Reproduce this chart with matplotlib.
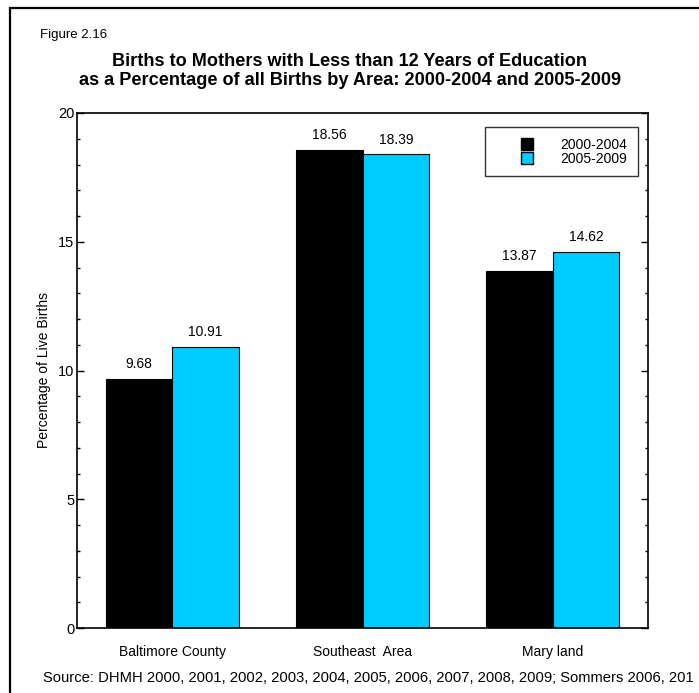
import numpy as np
import matplotlib.pyplot as plt
from matplotlib.patches import Rectangle
from matplotlib.lines import Line2D

plt.rcParams['font.family'] = ['Liberation Sans', 'DejaVu Sans']

areas = ["Baltimore County", "Southeast  Area", "Mary land"]
series = ["2000-2004", "2005-2009"]
vals_0004 = [9.68, 18.56, 13.87]
vals_0509 = [10.91, 18.39, 14.62]
colors = ["#000000", "#00CCFF"]

W, H = 699, 693
fig = plt.figure(figsize=(W / 100, H / 100), dpi=100)
ax = fig.add_axes([77 / W, 1 - 628 / H, (648 - 77) / W, (628 - 113) / H])

# outer frame (left/top visible, right/bottom run off the page)
fig.patches.append(Rectangle((10 / W, -0.1), 1.2, 1 - 8 / H + 0.1,
                             transform=fig.transFigure, fill=False,
                             edgecolor="black", linewidth=1.6))

x = np.arange(len(areas))
bw = 0.35
for i, (vals, lab) in enumerate([(vals_0004, series[0]), (vals_0509, series[1])]):
    pos = x + (i - 0.5) * bw
    ax.bar(pos, vals, width=bw, align="center", color=colors[i],
           edgecolor="black", linewidth=0.8, label=lab)
    for p, v in zip(pos, vals):
        ax.text(p, v + 0.3, f"{v:.2f}", ha="center", va="bottom", fontsize=10)

ax.set_xlim(-0.5, 2.5)
ax.set_ylim(0, 20)
ax.set_yticks([0, 5, 10, 15, 20])
ax.set_yticks(np.arange(0, 21, 1), minor=True)
ax.set_xticks(x)
ax.set_xticklabels(areas, fontsize=10)
ax.tick_params(axis="x", length=0, pad=12)
ax.tick_params(axis="y", which="major", direction="in", length=5, width=1,
               labelsize=10.5, pad=2, right=True)
ax.tick_params(axis="y", which="minor", direction="in", length=2, width=1,
               right=True)
for s in ax.spines.values():
    s.set_linewidth(1.2)
ax.set_ylabel("Percentage of Live Births", fontsize=10, labelpad=5)

handles = [Line2D([], [], marker="s", linestyle="none", markersize=9,
                  markerfacecolor=c, markeredgecolor="black") for c in colors]
leg = ax.legend(handles, series, loc="upper right", bbox_to_anchor=(0.982, 0.972),
                fontsize=10, frameon=True, fancybox=False, edgecolor="black",
                markerfirst=True, handletextpad=0.1, borderpad=0.75,
                labelspacing=0.0, borderaxespad=0, handlelength=4.6)
leg.get_frame().set_linewidth(1.0)

fig.text(40 / W, 1 - 35 / H, "Figure 2.16", fontsize=9.5, va="center", ha="left")
fig.text(350 / W, 1 - 71 / H,
         "Births to Mothers with Less than 12 Years of Education\n"
         "as a Percentage of all Births by Area: 2000-2004 and 2005-2009",
         fontsize=13.1, fontweight="bold", ha="center", va="center", linespacing=1.1)
fig.text(43 / W, 1 - 678 / H,
         "Source: DHMH 2000, 2001, 2002, 2003, 2004, 2005, 2006, 2007, 2008, 2009; Sommers 2006, 201",
         fontsize=10.6, ha="left", va="center")

fig.savefig("out.png", dpi=100)
